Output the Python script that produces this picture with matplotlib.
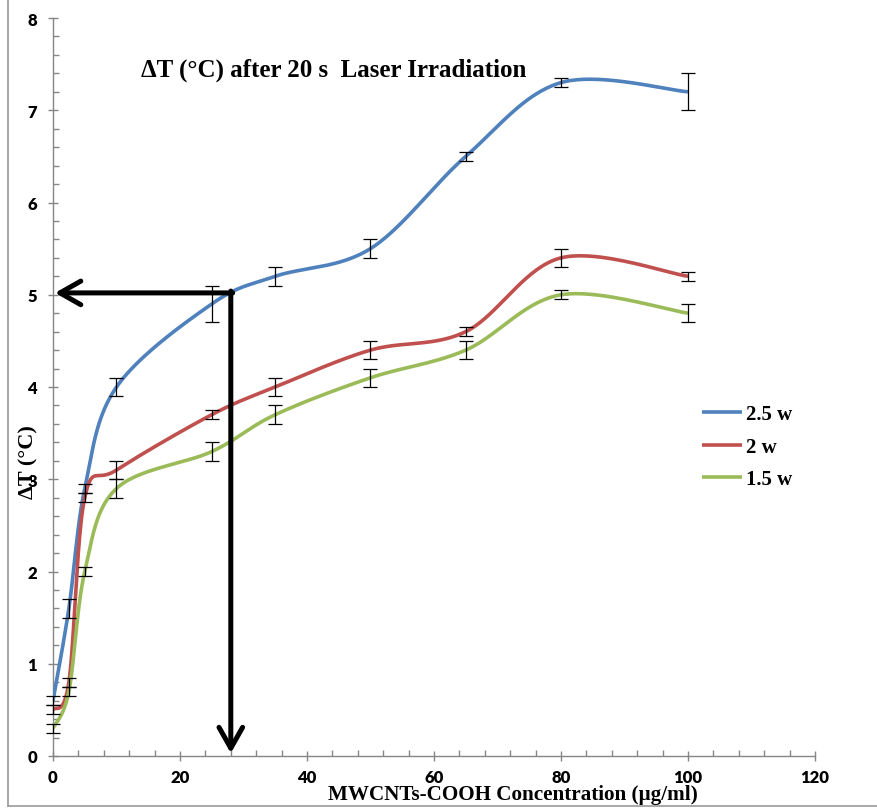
import numpy as np
import matplotlib
matplotlib.use("Agg")
import matplotlib.pyplot as plt
from matplotlib.ticker import MultipleLocator

# data
conc = [0, 2.5, 5, 10, 25, 35, 50, 65, 80, 100]
dt_25w = [0.6, 1.6, 2.9, 4.0, 4.9, 5.2, 5.5, 6.5, 7.3, 7.2]
err_25w = [0.05, 0.1, 0.05, 0.1, 0.2, 0.1, 0.1, 0.05, 0.05, 0.2]
dt_2w = [0.5, 0.8, 2.8, 3.1, 3.7, 4.0, 4.4, 4.6, 5.4, 5.2]
err_2w = [0.05, 0.05, 0.05, 0.1, 0.05, 0.1, 0.1, 0.05, 0.1, 0.05]
dt_15w = [0.3, 0.7, 2.0, 2.9, 3.3, 3.7, 4.1, 4.4, 5.0, 4.8]
err_15w = [0.05, 0.05, 0.05, 0.1, 0.1, 0.1, 0.1, 0.1, 0.05, 0.1]
labels = ["2.5 w", "2 w", "1.5 w"]
colors = ["#4F81BD", "#C0504D", "#9BBB59"]

# marked reading: 5 degC -> about 28 ug/ml
mark_x = 28
mark_y = 5.02


def smooth(x, y, n=40):
    # excel-like smoothed line: cubic bezier through the points
    x = np.asarray(x, float)
    y = np.asarray(y, float)
    P = np.column_stack([x, y])
    out = []
    t = np.linspace(0, 1, n)
    for i in range(len(P) - 1):
        p0 = P[i - 1] if i > 0 else P[i]
        p1 = P[i]
        p2 = P[i + 1]
        p3 = P[i + 2] if i + 2 < len(P) else P[i + 1]
        c1 = p1 + (p2 - p0) / 6
        c2 = p2 - (p3 - p1) / 6
        seg = ((1 - t)[:, None] ** 3 * p1 + 3 * ((1 - t) ** 2 * t)[:, None] * c1
               + 3 * ((1 - t) * t ** 2)[:, None] * c2 + (t ** 3)[:, None] * p2)
        out.append(seg)
    out = np.vstack(out)
    return out[:, 0], out[:, 1]


serif = "Liberation Serif"
tickfont = "Lato"

fig = plt.figure(figsize=(8.78, 8.12), dpi=100)
ax = fig.add_axes([53 / 878, 1 - 757 / 812, (815 - 53) / 878, (757 - 19) / 812])

for ys, es, lab, c in zip([dt_25w, dt_2w, dt_15w], [err_25w, err_2w, err_15w], labels, colors):
    sx, sy = smooth(conc, ys)
    ax.plot(sx, sy, color=c, lw=2.6, label=lab, solid_capstyle="butt", zorder=3)
    ax.errorbar(conc, ys, yerr=es, fmt="none", ecolor="black", elinewidth=0.9,
                capsize=5, capthick=0.9, zorder=4, clip_on=False)

# arrows
head = "->,head_length=1.5,head_width=0.85"
ax.annotate("", xy=(0.3, mark_y), xytext=(mark_x + 0.3, mark_y),
            arrowprops=dict(arrowstyle=head, lw=3.6, color="black",
                            shrinkA=0, shrinkB=0), zorder=5)
ax.annotate("", xy=(mark_x, 0.03), xytext=(mark_x, mark_y + 0.02),
            arrowprops=dict(arrowstyle=head, lw=3.6, color="black",
                            shrinkA=0, shrinkB=0), zorder=5)

ax.set_xlim(0, 120)
ax.set_ylim(0, 8)
ax.xaxis.set_major_locator(MultipleLocator(20))
ax.xaxis.set_minor_locator(MultipleLocator(4))
ax.yaxis.set_major_locator(MultipleLocator(1))
ax.yaxis.set_minor_locator(MultipleLocator(0.2))
for s in ["top", "right"]:
    ax.spines[s].set_visible(False)
for s in ["left", "bottom"]:
    ax.spines[s].set_color("#868686")
    ax.spines[s].set_linewidth(1)
ax.tick_params(which="major", direction="inout", length=7, width=1, color="#868686")
ax.tick_params(which="minor", direction="in", length=4, width=1, color="#868686")
ax.tick_params(axis="x", which="major", pad=6)
ax.tick_params(axis="y", which="major", pad=8)
for lb in ax.get_xticklabels() + ax.get_yticklabels():
    lb.set_fontfamily(tickfont)
    lb.set_fontweight("heavy")
    lb.set_fontsize(12)

fig.text(334 / 878, 1 - 70 / 812, "ΔT (°C) after 20 s  Laser Irradiation",
         family=serif, weight="bold", fontsize=18, ha="center", va="center")
fig.text(513 / 878, 1 - 795 / 812, "MWCNTs-COOH Concentration (µg/ml)",
         family=serif, weight="bold", fontsize=15.2, ha="center", va="center")
fig.text(28 / 878, 1 - 462 / 812, "ΔT (°C)", family=serif, weight="bold",
         fontsize=16, ha="center", va="center", rotation=90)

ax.legend(loc="center left", bbox_to_anchor=(702 / 878, 1 - 448 / 812),
          bbox_transform=fig.transFigure, frameon=False, borderpad=0,
          borderaxespad=0, handlelength=1.9, handletextpad=0.2, labelspacing=0.6,
          prop=dict(family=serif, weight="bold", size=15))

# chart area border (partly visible)
fig.add_artist(plt.Line2D([8 / 878, 8 / 878], [1 - 807 / 812, 1], color="#9a9a9a", lw=1.2))
fig.add_artist(plt.Line2D([8 / 878, 1], [1 - 807 / 812, 1 - 807 / 812], color="#9a9a9a", lw=1.2))

fig.savefig("out.png", dpi=100)
